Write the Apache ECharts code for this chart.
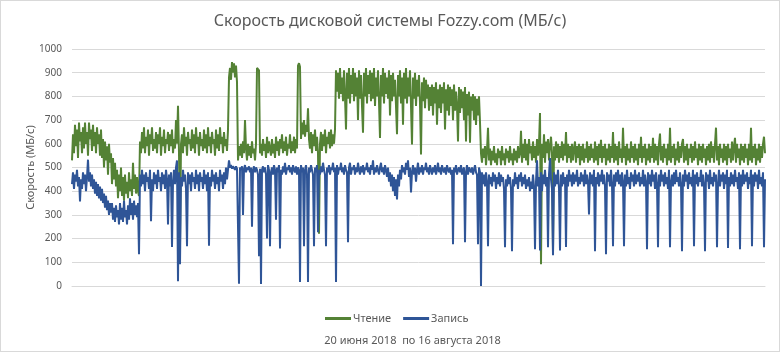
<!DOCTYPE html>
<html>
<head>
<meta charset="utf-8">
<script src="https://cdn.jsdelivr.net/npm/echarts@6/dist/echarts.min.js"></script>
<style>
  html, body { margin: 0; padding: 0; background: #fff; }
  #chart { width: 778px; height: 350px; border: 1px solid #d9d9d9; }
</style>
</head>
<body>
<div id="chart"></div>
<script>
// Чтение (read), МБ/с — one sample per row entry, 10 per line
var readSpeed = [
  530, 640, 560, 680, 590, 660, 540, 690, 610, 650,
  560, 670, 580, 690, 600, 650, 550, 690, 620, 660,
  570, 680, 590, 650, 560, 670, 600, 640, 550, 660,
  540, 620, 500, 610, 530, 590, 470, 600, 520, 560,
  430, 540, 450, 520, 420, 490, 370, 470, 400, 500,
  380, 460, 360, 470, 390, 440, 370, 480, 400, 450,
  380, 520, 410, 470, 390, 460, 400, 380, 610, 560,
  650, 580, 670, 560, 630, 590, 660, 550, 640, 600,
  670, 570, 620, 580, 650, 560, 640, 600, 670, 550,
  630, 590, 660, 560, 620, 600, 650, 570, 640, 590,
  660, 560, 620, 580, 700, 600, 760, 560, 180, 600,
  640, 560, 670, 590, 630, 550, 650, 600, 620, 570,
  660, 580, 640, 560, 670, 600, 630, 550, 650, 590,
  620, 570, 660, 580, 640, 560, 670, 590, 630, 560,
  650, 600, 620, 550, 660, 580, 640, 570, 670, 600,
  630, 560, 650, 590, 620, 570, 660, 880, 920, 870,
  945, 900, 940, 880, 930, 860, 530, 590, 550, 600,
  540, 610, 560, 700, 580, 530, 600, 550, 590, 540,
  610, 560, 580, 530, 600, 920, 925, 910, 560, 600,
  550, 620, 570, 600, 540, 630, 560, 610, 580, 550,
  620, 560, 600, 540, 630, 570, 610, 550, 620, 580,
  640, 560, 610, 570, 630, 550, 600, 580, 640, 560,
  610, 570, 630, 560, 620, 580, 930, 940, 925, 620,
  690, 640, 700, 630, 680, 650, 750, 620, 580, 650,
  560, 640, 590, 660, 570, 630, 560, 220, 600, 650,
  570, 640, 590, 660, 560, 630, 600, 650, 580, 660,
  590, 640, 600, 660, 910, 820, 900, 790, 920, 810,
  880, 780, 910, 800, 660, 900, 790, 920, 770, 890,
  810, 920, 780, 900, 800, 880, 700, 910, 790, 890,
  760, 647, 900, 800, 920, 770, 890, 810, 910, 780,
  900, 790, 920, 760, 880, 800, 910, 780, 625, 890,
  800, 920, 770, 900, 810, 880, 790, 910, 720, 890,
  780, 900, 800, 870, 760, 640, 890, 800, 910, 770,
  880, 680, 900, 790, 920, 770, 880, 800, 910, 760,
  597, 880, 790, 900, 760, 870, 800, 890, 770, 555,
  860, 780, 880, 750, 870, 790, 850, 740, 840, 760,
  850, 720, 840, 770, 860, 680, 830, 750, 850, 730,
  840, 770, 860, 660, 830, 740, 850, 720, 840, 760,
  830, 700, 850, 740, 820, 760, 610, 840, 730, 830,
  750, 820, 700, 840, 610, 810, 720, 820, 605, 800,
  740, 810, 700, 800, 680, 790, 720, 800, 690, 560,
  520, 580, 540, 590, 510, 570, 668, 530, 580, 510,
  570, 530, 590, 520, 560, 510, 580, 540, 570, 510,
  590, 530, 560, 510, 580, 540, 570, 520, 590, 530,
  560, 510, 580, 530, 570, 520, 590, 540, 560, 655,
  520, 600, 540, 620, 530, 600, 510, 620, 560, 590,
  530, 610, 540, 590, 520, 620, 550, 600, 730, 92,
  600, 540, 640, 520, 610, 560, 620, 530, 590, 630,
  560, 143, 590, 530, 610, 540, 600, 520, 590, 540,
  610, 530, 600, 550, 650, 520, 600, 540, 590, 520,
  600, 530, 580, 610, 520, 590, 540, 600, 510, 590,
  530, 600, 520, 580, 540, 610, 520, 590, 530, 600,
  540, 580, 520, 610, 530, 590, 510, 600, 540, 617,
  520, 590, 540, 600, 510, 580, 530, 600, 520, 590,
  540, 650, 520, 600, 530, 590, 510, 610, 540, 580,
  520, 668, 540, 590, 510, 600, 530, 580, 520, 610,
  540, 590, 520, 600, 530, 580, 510, 600, 540, 630,
  520, 590, 540, 600, 510, 580, 530, 600, 520, 590,
  540, 625, 520, 600, 530, 590, 510, 600, 643, 530,
  590, 520, 600, 540, 580, 510, 600, 530, 668, 520,
  590, 540, 600, 510, 580, 530, 610, 520, 590, 540,
  600, 620, 520, 590, 530, 600, 510, 580, 540, 600,
  520, 590, 530, 610, 540, 580, 510, 600, 530, 590,
  520, 600, 540, 580, 510, 590, 530, 600, 520, 610,
  540, 590, 520, 600, 668, 530, 590, 510, 600, 540,
  580, 520, 600, 530, 590, 510, 600, 540, 580, 520,
  610, 530, 590, 625, 520, 600, 540, 580, 510, 600,
  530, 590, 520, 600, 540, 580, 510, 600, 530, 668,
  520, 590, 540, 600, 510, 580, 530, 600, 520, 590,
  540, 600, 630, 560
];

// Запись (write), МБ/с
var writeSpeed = [
  430, 480, 410, 470, 440, 490, 420, 460, 357, 450,
  410, 480, 430, 470, 400, 460, 533, 440, 480, 420,
  470, 410, 450, 390, 440, 380, 430, 370, 420, 360,
  410, 350, 390, 330, 380, 320, 360, 300, 350, 310,
  350, 280, 330, 270, 340, 290, 320, 260, 350, 280,
  330, 270, 360, 290, 320, 260, 340, 280, 370, 300,
  350, 280, 360, 300, 340, 290, 350, 134, 470, 420,
  490, 430, 470, 400, 480, 440, 460, 410, 490, 273,
  450, 400, 480, 430, 470, 410, 490, 440, 460, 400,
  480, 430, 470, 410, 490, 450, 260, 470, 420, 480,
  165, 440, 490, 430, 500, 530, 20, 480, 92, 460,
  420, 490, 440, 470, 410, 168, 480, 430, 470, 400,
  480, 440, 460, 410, 490, 430, 470, 400, 480, 440,
  460, 410, 490, 430, 470, 400, 480, 170, 460, 420,
  490, 440, 470, 410, 480, 430, 460, 400, 490, 440,
  470, 410, 480, 430, 500, 450, 490, 530, 500, 510,
  495, 505, 500, 490, 505, 495, 500, 10, 500, 490,
  505, 300, 495, 510, 480, 500, 490, 505, 480, 500,
  250, 490, 505, 480, 500, 490, 470, 126, 495, 8,
  490, 505, 480, 500, 470, 200, 510, 490, 168, 480,
  500, 470, 510, 490, 280, 500, 480, 510, 158, 490,
  470, 505, 480, 520, 470, 500, 490, 510, 480, 500,
  470, 510, 490, 480, 505, 470, 500, 490, 17, 510,
  480, 500, 168, 490, 510, 470, 17, 500, 480, 510,
  490, 470, 168, 500, 480, 510, 227, 490, 470, 505,
  480, 520, 490, 470, 168, 500, 480, 510, 470, 500,
  490, 520, 480, 500, 17, 510, 470, 500, 490, 520,
  480, 500, 470, 510, 490, 480, 185, 500, 520, 470,
  500, 490, 510, 470, 500, 480, 520, 490, 470, 505,
  480, 510, 470, 500, 490, 520, 480, 500, 470, 510,
  490, 530, 470, 500, 480, 510, 490, 470, 500, 520,
  480, 500, 470, 510, 490, 460, 500, 440, 480, 420,
  470, 400, 460, 380, 450, 365, 470, 420, 490, 450,
  510, 480, 500, 470, 520, 490, 530, 460, 500, 395,
  480, 510, 470, 500, 440, 490, 520, 470, 500, 480,
  510, 470, 500, 490, 520, 480, 500, 470, 510, 490,
  470, 500, 480, 510, 470, 490, 520, 480, 500, 470,
  510, 490, 480, 500, 470, 510, 490, 480, 500, 470,
  490, 176, 500, 480, 510, 470, 490, 500, 480, 510,
  470, 490, 500, 185, 480, 510, 470, 500, 490, 480,
  500, 470, 490, 510, 480, 470, 176, 500, 480, 0,
  480, 430, 470, 420, 480, 440, 168, 470, 430, 460,
  420, 480, 440, 470, 410, 460, 430, 480, 420, 470,
  440, 460, 410, 164, 450, 420, 470, 430, 460, 410,
  147, 450, 420, 480, 430, 460, 410, 470, 440, 480,
  420, 460, 430, 470, 410, 450, 420, 460, 400, 440,
  410, 470, 420, 155, 440, 530, 420, 460, 150, 480,
  400, 470, 430, 490, 420, 460, 164, 470, 540, 450,
  410, 130, 480, 420, 470, 430, 490, 410, 150, 470,
  420, 480, 430, 460, 165, 470, 420, 490, 440, 470,
  420, 480, 430, 470, 440, 490, 420, 460, 430, 480,
  440, 470, 420, 490, 430, 470, 440, 302, 480, 430,
  470, 420, 490, 147, 460, 430, 480, 420, 470, 440,
  490, 430, 470, 420, 134, 480, 440, 470, 420, 490,
  430, 168, 470, 420, 480, 440, 490, 430, 470, 420,
  480, 440, 168, 470, 420, 490, 430, 460, 410, 480,
  440, 470, 420, 490, 430, 470, 440, 480, 420, 460,
  430, 490, 420, 470, 440, 155, 480, 430, 470, 420,
  490, 440, 470, 410, 480, 430, 164, 470, 420, 490,
  440, 470, 420, 480, 430, 460, 410, 490, 164, 440,
  470, 420, 480, 430, 490, 440, 460, 420, 480, 430,
  147, 470, 420, 490, 440, 470, 410, 480, 430, 460,
  420, 490, 168, 470, 430, 480, 420, 460, 440, 490,
  420, 470, 430, 147, 480, 440, 470, 410, 490, 430,
  460, 420, 480, 440, 470, 164, 430, 490, 420, 470,
  440, 480, 410, 470, 430, 490, 160, 460, 420, 480,
  430, 470, 420, 490, 440, 460, 410, 480, 155, 470,
  420, 490, 430, 470, 440, 480, 410, 460, 430, 490,
  168, 470, 420, 480, 440, 470, 410, 490, 430, 460,
  420, 480, 164, 450
];

var yTicks = [0, 100, 200, 300, 400, 500, 600, 700, 800, 900, 1000];
var seriesNames = ['Чтение', 'Запись'];
var titleText = 'Скорость дисковой системы Fozzy.com (МБ/с)';
var yTitle = 'Скорость (МБ/с)';
var periodText = '20 июня 2018  по 16 августа 2018';

// samples spread evenly over the period 20.06.2018 - 16.08.2018
var startTime = Date.UTC(2018, 5, 20);
var endTime = Date.UTC(2018, 7, 16, 23, 59);
var categories = readSpeed.map(function (v, i) {
  var t = new Date(startTime + (endTime - startTime) * i / (readSpeed.length - 1));
  return t.toISOString().slice(0, 16).replace('T', ' ');
});

var font = '"Noto Sans", "DejaVu Sans", sans-serif';
var chart = echarts.init(document.getElementById('chart'), null, { renderer: 'canvas' });

chart.setOption({
  animation: false,
  backgroundColor: '#ffffff',
  textStyle: { fontFamily: font },
  title: {
    text: titleText,
    left: 'center',
    top: 7,
    textStyle: { fontFamily: font, fontSize: 16, fontWeight: 'normal', color: '#595959' }
  },
  legend: {
    data: seriesNames,
    bottom: 22,
    left: 319,
    icon: 'rect',
    itemWidth: 26,
    itemHeight: 3,
    itemGap: 12,
    textStyle: { fontFamily: font, fontSize: 11, color: '#595959', padding: [0, 0, 0, -3] }
  },
  grid: { left: 71, top: 48, width: 693, height: 238, containLabel: false },
  xAxis: {
    type: 'category',
    data: categories,
    boundaryGap: false,
    name: periodText,
    nameLocation: 'middle',
    nameGap: 49,
    nameTextStyle: { fontFamily: font, fontSize: 11, color: '#595959', padding: [0, 12, 0, 0] },
    axisLine: { lineStyle: { color: '#d9d9d9' } },
    axisTick: { show: false },
    axisLabel: { show: false },
    splitLine: { show: false }
  },
  yAxis: {
    type: 'value',
    min: yTicks[0],
    max: yTicks[yTicks.length - 1],
    interval: 100,
    name: yTitle,
    nameLocation: 'middle',
    nameRotate: 90,
    nameGap: 36,
    nameMoveOverlap: false,
    nameTextStyle: { fontFamily: font, fontSize: 11, color: '#595959' },
    axisLine: { show: false },
    axisTick: { show: false },
    axisLabel: {
      fontFamily: font, fontSize: 10, color: '#595959', margin: 10,
      formatter: function (v) { return String(v); }
    },
    splitLine: { lineStyle: { color: '#d9d9d9', width: 1 } }
  },
  series: [
    {
      name: seriesNames[0],
      type: 'line',
      data: readSpeed,
      symbol: 'none',
      lineStyle: { color: '#548235', width: 2 },
      itemStyle: { color: '#548235' }
    },
    {
      name: seriesNames[1],
      type: 'line',
      data: writeSpeed,
      symbol: 'none',
      lineStyle: { color: '#2f5597', width: 2 },
      itemStyle: { color: '#2f5597' }
    }
  ]
});
</script>
</body>
</html>
